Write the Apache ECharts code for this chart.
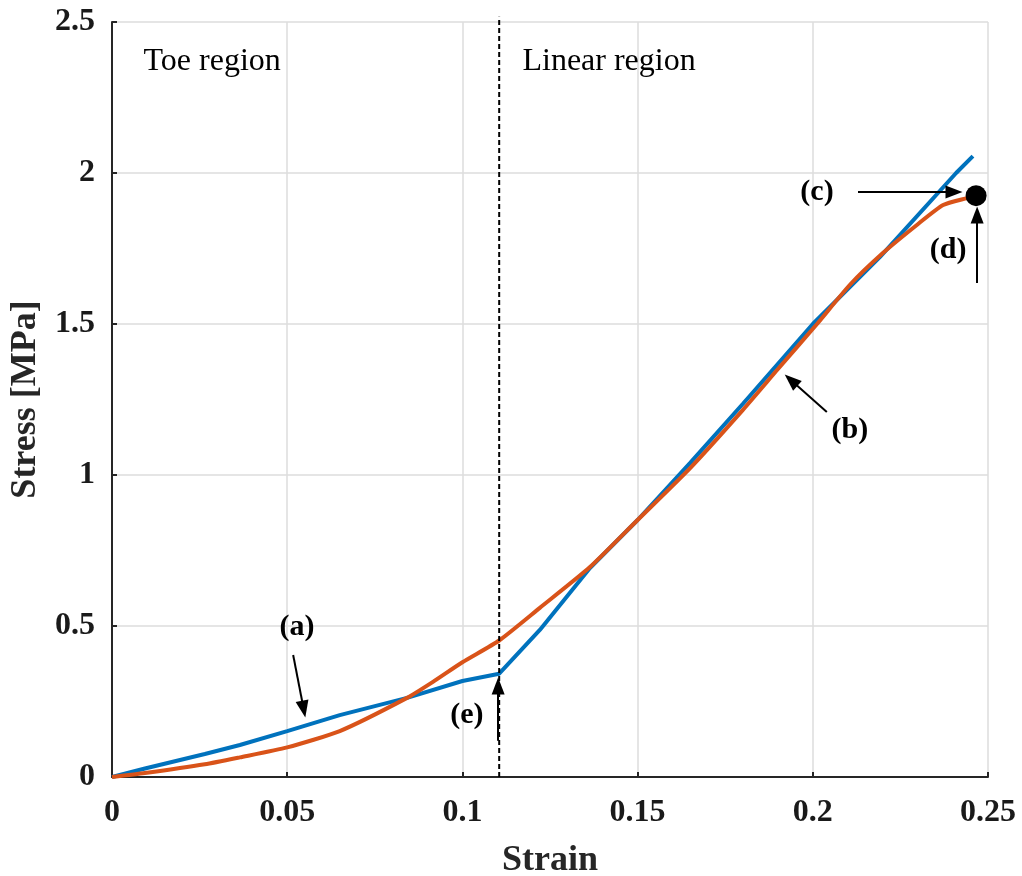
<!DOCTYPE html>
<html>
<head>
<meta charset="utf-8">
<script src="https://cdn.jsdelivr.net/npm/echarts@6/dist/echarts.min.js"></script>
<style>
html,body{margin:0;padding:0;background:#fff;}
#chart{width:1022px;height:876px;}
</style>
</head>
<body>
<div id="chart"></div>
<script>
// ---- Data ----
const blueStrain = [0, 0.0094, 0.0265, 0.0365, 0.05, 0.065, 0.0842, 0.1, 0.1105, 0.1221, 0.1364, 0.15, 0.165, 0.18, 0.2, 0.2192, 0.2409, 0.2457];
const blueStress = [0, 0.028, 0.076, 0.106, 0.152, 0.205, 0.262, 0.318, 0.342, 0.487, 0.692, 0.851, 1.04, 1.235, 1.5, 1.722, 2.0, 2.056];

const orangeStrain = [0, 0.0094, 0.0265, 0.0365, 0.05, 0.065, 0.0842, 0.0916, 0.1, 0.1105, 0.1221, 0.1364, 0.15, 0.165, 0.18, 0.19, 0.2012, 0.2106, 0.22, 0.2297, 0.2372, 0.244, 0.2466];
const orangeStress = [0, 0.013, 0.042, 0.065, 0.098, 0.152, 0.262, 0.315, 0.38, 0.452, 0.56, 0.695, 0.851, 1.023, 1.215, 1.35, 1.5, 1.63, 1.735, 1.828, 1.894, 1.917, 1.925];

const xTicks = [0, 0.05, 0.1, 0.15, 0.2, 0.25];
const xTickLabels = ['0', '0.05', '0.1', '0.15', '0.2', '0.25'];
const yTicks = [0, 0.5, 1, 1.5, 2, 2.5];
const yTickLabels = ['0', '0.5', '1', '1.5', '2', '2.5'];

const boundaryStrain = 0.1105;
const boundaryStress = [0, 2.517];

const failurePoint = [0.2466, 1.925];

const regionNames = ['Toe region', 'Linear region'];
const regionX = [0.00885, 0.117];
const regionY = [2.37, 2.37];

const annLabels = ['(a)', '(b)', '(c)', '(d)', '(e)'];
const annLabelX = [0.0528, 0.2106, 0.2012, 0.2386, 0.1013];
const annLabelY = [0.497, 1.149, 1.937, 1.745, 0.205];
const arrowFromX = [0.0517, 0.204, 0.2129, 0.2469, 0.1102];
const arrowFromY = [0.404, 1.209, 1.937, 1.636, 0.12];
const arrowToX = [0.0547, 0.1938, 0.2403, 0.2469, 0.1102];
const arrowToY = [0.225, 1.314, 1.937, 1.861, 0.301];

// ---- Build ----
const FONT = "'Liberation Serif', 'Times New Roman', serif";
const zip = (a, b) => a.map((v, i) => [v, b[i]]);
const labelFor = (ticks, labels) => (v) => {
  const i = ticks.findIndex(t => Math.abs(t - v) < 1e-9);
  return i >= 0 ? labels[i] : '';
};

const chart = echarts.init(document.getElementById('chart'), null, {renderer: 'canvas'});
chart.setOption({
  animation: false,
  backgroundColor: '#fff',
  grid: {left: 112, right: 34, top: 22, bottom: 99, containLabel: false, outerBoundsMode: 'none'},
  xAxis: {
    type: 'value', min: 0, max: 0.25, interval: 0.05,
    name: 'Strain', nameLocation: 'middle', nameGap: 66,
    nameTextStyle: {fontFamily: FONT, fontWeight: 'bold', fontSize: 36, color: '#262626'},
    axisLine: {show: true, onZero: false, lineStyle: {color: '#262626', width: 2}},
    axisTick: {show: true, inside: true, length: 5, lineStyle: {color: '#262626', width: 2}},
    axisLabel: {margin: 20, fontFamily: FONT, fontWeight: 'bold', fontSize: 32, color: '#1a1a1a',
      formatter: labelFor(xTicks, xTickLabels)},
    splitLine: {show: true, lineStyle: {color: '#dcdcdc', width: 1.5}}
  },
  yAxis: {
    type: 'value', min: 0, max: 2.5, interval: 0.5,
    name: 'Stress [MPa]', nameLocation: 'middle', nameGap: 62, nameRotate: 90,
    nameTextStyle: {fontFamily: FONT, fontWeight: 'bold', fontSize: 36, color: '#262626'},
    axisLine: {show: true, onZero: false, lineStyle: {color: '#262626', width: 2}},
    axisTick: {show: true, inside: true, length: 5, lineStyle: {color: '#262626', width: 2}},
    axisLabel: {margin: 17, fontFamily: FONT, fontWeight: 'bold', fontSize: 32, color: '#1a1a1a',
      formatter: labelFor(yTicks, yTickLabels)},
    splitLine: {show: true, lineStyle: {color: '#dcdcdc', width: 1.5}}
  },
  series: [
    {
      type: 'line', name: 'fit', data: zip(blueStrain, blueStress),
      showSymbol: false, symbol: 'none',
      lineStyle: {color: '#0072BD', width: 4}, z: 3
    },
    {
      type: 'line', name: 'measured', data: zip(orangeStrain, orangeStress),
      showSymbol: false, symbol: 'none', smooth: 0.2,
      lineStyle: {color: '#D95319', width: 4}, z: 4
    },
    {
      type: 'line', name: 'boundary', clip: false,
      data: boundaryStress.map(s => [boundaryStrain, s]),
      showSymbol: false, symbol: 'none',
      lineStyle: {color: '#000', width: 2, type: [5, 3]}, z: 5
    },
    {
      type: 'line', name: 'arrows', data: [], z: 6,
      markLine: {
        silent: true, animation: false,
        symbol: ['none', 'triangle'], symbolSize: [13, 17],
        lineStyle: {color: '#000', width: 2, type: 'solid', opacity: 1},
        itemStyle: {color: '#000'},
        label: {show: false},
        data: annLabels.map((_, i) => [
          {coord: [arrowFromX[i], arrowFromY[i]]},
          {coord: [arrowToX[i], arrowToY[i]]}
        ])
      }
    },
    {
      type: 'scatter', name: 'failure', data: [failurePoint],
      symbolSize: 21, itemStyle: {color: '#000', opacity: 1}, z: 7
    },
    {
      type: 'scatter', name: 'annLabels', z: 8, symbolSize: 1,
      itemStyle: {color: 'rgba(0,0,0,0)', opacity: 1},
      data: annLabels.map((t, i) => ({name: t, value: [annLabelX[i], annLabelY[i]]})),
      label: {show: true, position: 'inside', formatter: '{b}', fontFamily: FONT,
        fontWeight: 'bold', fontSize: 30, color: '#000', opacity: 1}
    },
    {
      type: 'scatter', name: 'regions', z: 8, symbolSize: 1,
      itemStyle: {color: 'rgba(0,0,0,0)', opacity: 1},
      data: regionNames.map((t, i) => ({name: t, value: [regionX[i], regionY[i]]})),
      label: {show: true, position: 'right', distance: 0, formatter: '{b}', fontFamily: FONT,
        fontWeight: 'normal', fontSize: 32, color: '#000', opacity: 1}
    }
  ]
});
</script>
</body>
</html>
